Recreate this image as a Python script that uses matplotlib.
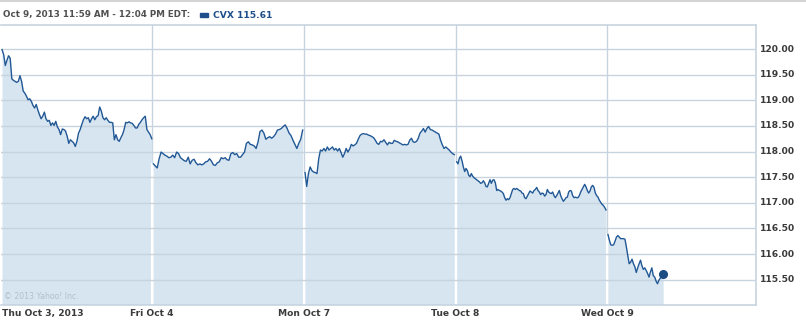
import numpy as np
import matplotlib
matplotlib.use("Agg")
import matplotlib.pyplot as plt

# ---- data (CVX, 5 trading days, prices) ----
day_labels = ["Thu Oct 3, 2013", "Fri Oct 4", "Mon Oct 7", "Tue Oct 8", "Wed Oct 9"]
# session minutes after 9:30 for first / last sample of each day
day_first_min = [4, 3, 3, 3, 2]
day_last_min = [389, 387, 387, 387, 144]

thu = [119.99, 119.89, 119.68, 119.78, 119.87, 119.82, 119.42, 119.39, 119.37, 119.35,
       119.37, 119.48, 119.37, 119.18, 119.14, 119.08, 119.01, 119.03, 118.98, 118.90,
       118.85, 118.92, 118.81, 118.72, 118.64, 118.69, 118.77, 118.64, 118.59, 118.61,
       118.51, 118.56, 118.51, 118.59, 118.48, 118.43, 118.33, 118.44, 118.43, 118.40,
       118.30, 118.16, 118.23, 118.20, 118.17, 118.10, 118.20, 118.36, 118.43, 118.53,
       118.62, 118.68, 118.64, 118.66, 118.57, 118.64, 118.69, 118.62, 118.68, 118.70,
       118.87, 118.79, 118.66, 118.62, 118.66, 118.61, 118.57, 118.57, 118.56, 118.23,
       118.33, 118.23, 118.20, 118.27, 118.33, 118.43, 118.57, 118.56, 118.58, 118.56,
       118.55, 118.51, 118.46, 118.46, 118.53, 118.57, 118.62, 118.66, 118.69, 118.43,
       118.38, 118.33, 118.25]
fri = [117.76, 117.72, 117.68, 117.86, 117.99, 117.96, 117.93, 117.91, 117.88, 117.89,
       117.93, 117.88, 117.99, 117.96, 117.88, 117.85, 117.82, 117.81, 117.89, 117.76,
       117.83, 117.85, 117.78, 117.74, 117.76, 117.74, 117.76, 117.80, 117.81, 117.86,
       117.81, 117.74, 117.73, 117.78, 117.80, 117.88, 117.86, 117.88, 117.84, 117.83,
       117.96, 117.98, 117.94, 117.96, 117.89, 117.89, 117.94, 117.99, 118.16, 118.19,
       118.14, 118.13, 118.11, 118.06, 118.19, 118.39, 118.42, 118.36, 118.24, 118.27,
       118.29, 118.26, 118.29, 118.34, 118.42, 118.43, 118.45, 118.49, 118.52, 118.45,
       118.36, 118.31, 118.22, 118.14, 118.06, 118.16, 118.24, 118.42]
mon = [117.59, 117.32, 117.57, 117.70, 117.63, 117.60, 117.59, 117.57, 117.86, 118.03,
       118.01, 118.06, 118.01, 118.09, 118.03, 118.06, 118.09, 118.03, 118.06, 118.01,
       118.06, 117.98, 117.89, 117.96, 118.06, 117.99, 118.05, 118.14, 118.11, 118.13,
       118.16, 118.24, 118.31, 118.34, 118.35, 118.34, 118.34, 118.32, 118.31, 118.29,
       118.27, 118.22, 118.16, 118.14, 118.20, 118.19, 118.23, 118.18, 118.13, 118.18,
       118.16, 118.16, 118.22, 118.20, 118.19, 118.17, 118.15, 118.13, 118.14, 118.13,
       118.14, 118.22, 118.26, 118.19, 118.18, 118.20, 118.26, 118.36, 118.40, 118.45,
       118.38, 118.45, 118.49, 118.43, 118.42, 118.40, 118.38, 118.36, 118.34, 118.22,
       118.13, 118.06, 118.09, 118.06, 118.03, 117.99, 117.96, 117.94]
tue = [117.80, 117.76, 117.87, 117.91, 117.82, 117.70, 117.61, 117.67, 117.63, 117.54,
       117.51, 117.57, 117.52, 117.49, 117.47, 117.45, 117.43, 117.41, 117.38, 117.39,
       117.43, 117.39, 117.32, 117.31, 117.38, 117.45, 117.38, 117.44, 117.45, 117.39,
       117.24, 117.26, 117.24, 117.23, 117.21, 117.18, 117.10, 117.05, 117.08, 117.06,
       117.10, 117.18, 117.26, 117.28, 117.26, 117.28, 117.26, 117.24, 117.23, 117.19,
       117.18, 117.10, 117.08, 117.13, 117.18, 117.23, 117.21, 117.19, 117.24, 117.26,
       117.30, 117.24, 117.21, 117.16, 117.19, 117.18, 117.13, 117.16, 117.26, 117.21,
       117.19, 117.18, 117.21, 117.14, 117.10, 117.14, 117.19, 117.24, 117.14, 117.08,
       117.03, 117.06, 117.10, 117.11, 117.21, 117.24, 117.23, 117.14, 117.10, 117.11,
       117.10, 117.10, 117.14, 117.21, 117.26, 117.31, 117.36, 117.31, 117.24, 117.19,
       117.23, 117.31, 117.34, 117.30, 117.19, 117.14, 117.11, 117.05, 117.01, 116.97,
       116.95, 116.91, 116.86]
wed = [116.38, 116.27, 116.18, 116.17, 116.18, 116.25, 116.33, 116.36, 116.33, 116.30,
       116.30, 116.30, 116.29, 116.14, 115.97, 115.81, 115.84, 115.90, 115.81, 115.75,
       115.64, 115.73, 115.81, 115.88, 115.77, 115.70, 115.73, 115.68, 115.62, 115.55,
       115.65, 115.73, 115.58, 115.55, 115.47, 115.42, 115.49, 115.53, 115.60, 115.61]
days = [thu, fri, mon, tue, wed]

y_ticks = [115.5, 116.0, 116.5, 117.0, 117.5, 118.0, 118.5, 119.0, 119.5, 120.0]
header_text = "Oct 9, 2013 11:59 AM - 12:04 PM EDT:"
legend_text = "CVX 115.61"
copyright_text = "\u00a9 2013 Yahoo! Inc."

SESSION = 390.0
LINE = "#215895"
FILL = "#d6e5f0"
GRID = "#c7d4df"
TXT = "#3a3a3a"

W, H = 806, 321
fig = plt.figure(figsize=(W / 100, H / 100), dpi=100)
ax_l, ax_r, ax_t, ax_b = 0.5, 755.5, 25.0, 304.5
ax = fig.add_axes([ax_l / W, (H - ax_b) / H, (ax_r - ax_l) / W, (ax_b - ax_t) / H])

xmax = (ax_r - ax_l) / 151.67
ymin, ymax = 115.015, 120.47
ax.set_xlim(0, xmax)
ax.set_ylim(ymin, ymax)

# horizontal grid above the fill
for v in y_ticks:
    ax.axhline(v, color=GRID, lw=1.0, zorder=2)
# vertical day separators (grey, behind fill)
for d in range(1, 5):
    ax.axvline(d, color=GRID, lw=1.0, zorder=0)

ends = []
for d, vals in enumerate(days):
    t = d + np.linspace(day_first_min[d], day_last_min[d], len(vals)) / SESSION
    v = np.array(vals)
    ax.fill_between(t, ymin, v, color=FILL, lw=0, zorder=1)
    ax.plot(t, v, color=LINE, lw=1.0, zorder=3, solid_joinstyle="round")
    ends.append((v[0], v[-1]))

# white separators within the filled area
for d in range(1, 5):
    top = min(ends[d - 1][1], ends[d][0])
    ax.plot([d, d], [ymin, top], color="white", lw=1.6, zorder=1.5)

# end dot
tl = 4 + day_last_min[4] / SESSION
ax.plot([tl], [wed[-1]], "o", color="#1c4c82", ms=5.5, zorder=4)

for s in ["left"]:
    ax.spines[s].set_visible(False)
for s in ["right", "top", "bottom"]:
    ax.spines[s].set_color(GRID)
    ax.spines[s].set_linewidth(1.2)

ax.set_xticks([])
ax.set_yticks([])

# y labels on the right
for v in y_ticks:
    ax.text(xmax + 4.5 / 151.67, v, f"{v:.2f}", ha="left", va="center",
            fontsize=6.6, fontweight="bold", color=TXT, clip_on=False)

# day labels
ax.text(0.012, ymin - 0.17, day_labels[0], ha="left", va="center",
        fontsize=6.6, fontweight="bold", color=TXT, clip_on=False)
for d in range(1, 5):
    ax.text(d, ymin - 0.17, day_labels[d], ha="center", va="center",
            fontsize=6.6, fontweight="bold", color=TXT, clip_on=False)

ax.text(0.025, ymin + 0.16, copyright_text, ha="left", va="center",
        fontsize=5.6, color="#b3c0cb", zorder=5)

# header
fig.text(3 / W, 1 - 15 / H, header_text, ha="left", va="center",
         fontsize=6.3, fontweight="bold", color="#505050")
fig.patches.append(matplotlib.patches.Rectangle((200 / W, 1 - 16.5 / H), 8 / W, 3.5 / H,
                                               transform=fig.transFigure, color="#1f4f8a"))
fig.text(213 / W, 1 - 15 / H, legend_text, ha="left", va="center",
         fontsize=6.6, fontweight="bold", color="#1f4f8a")
fig.lines.append(matplotlib.lines.Line2D([0, 1], [1 - 1 / H, 1 - 1 / H],
                                         transform=fig.transFigure, color="#d4d4d4", lw=1.5))

fig.savefig("out.png", dpi=100)
